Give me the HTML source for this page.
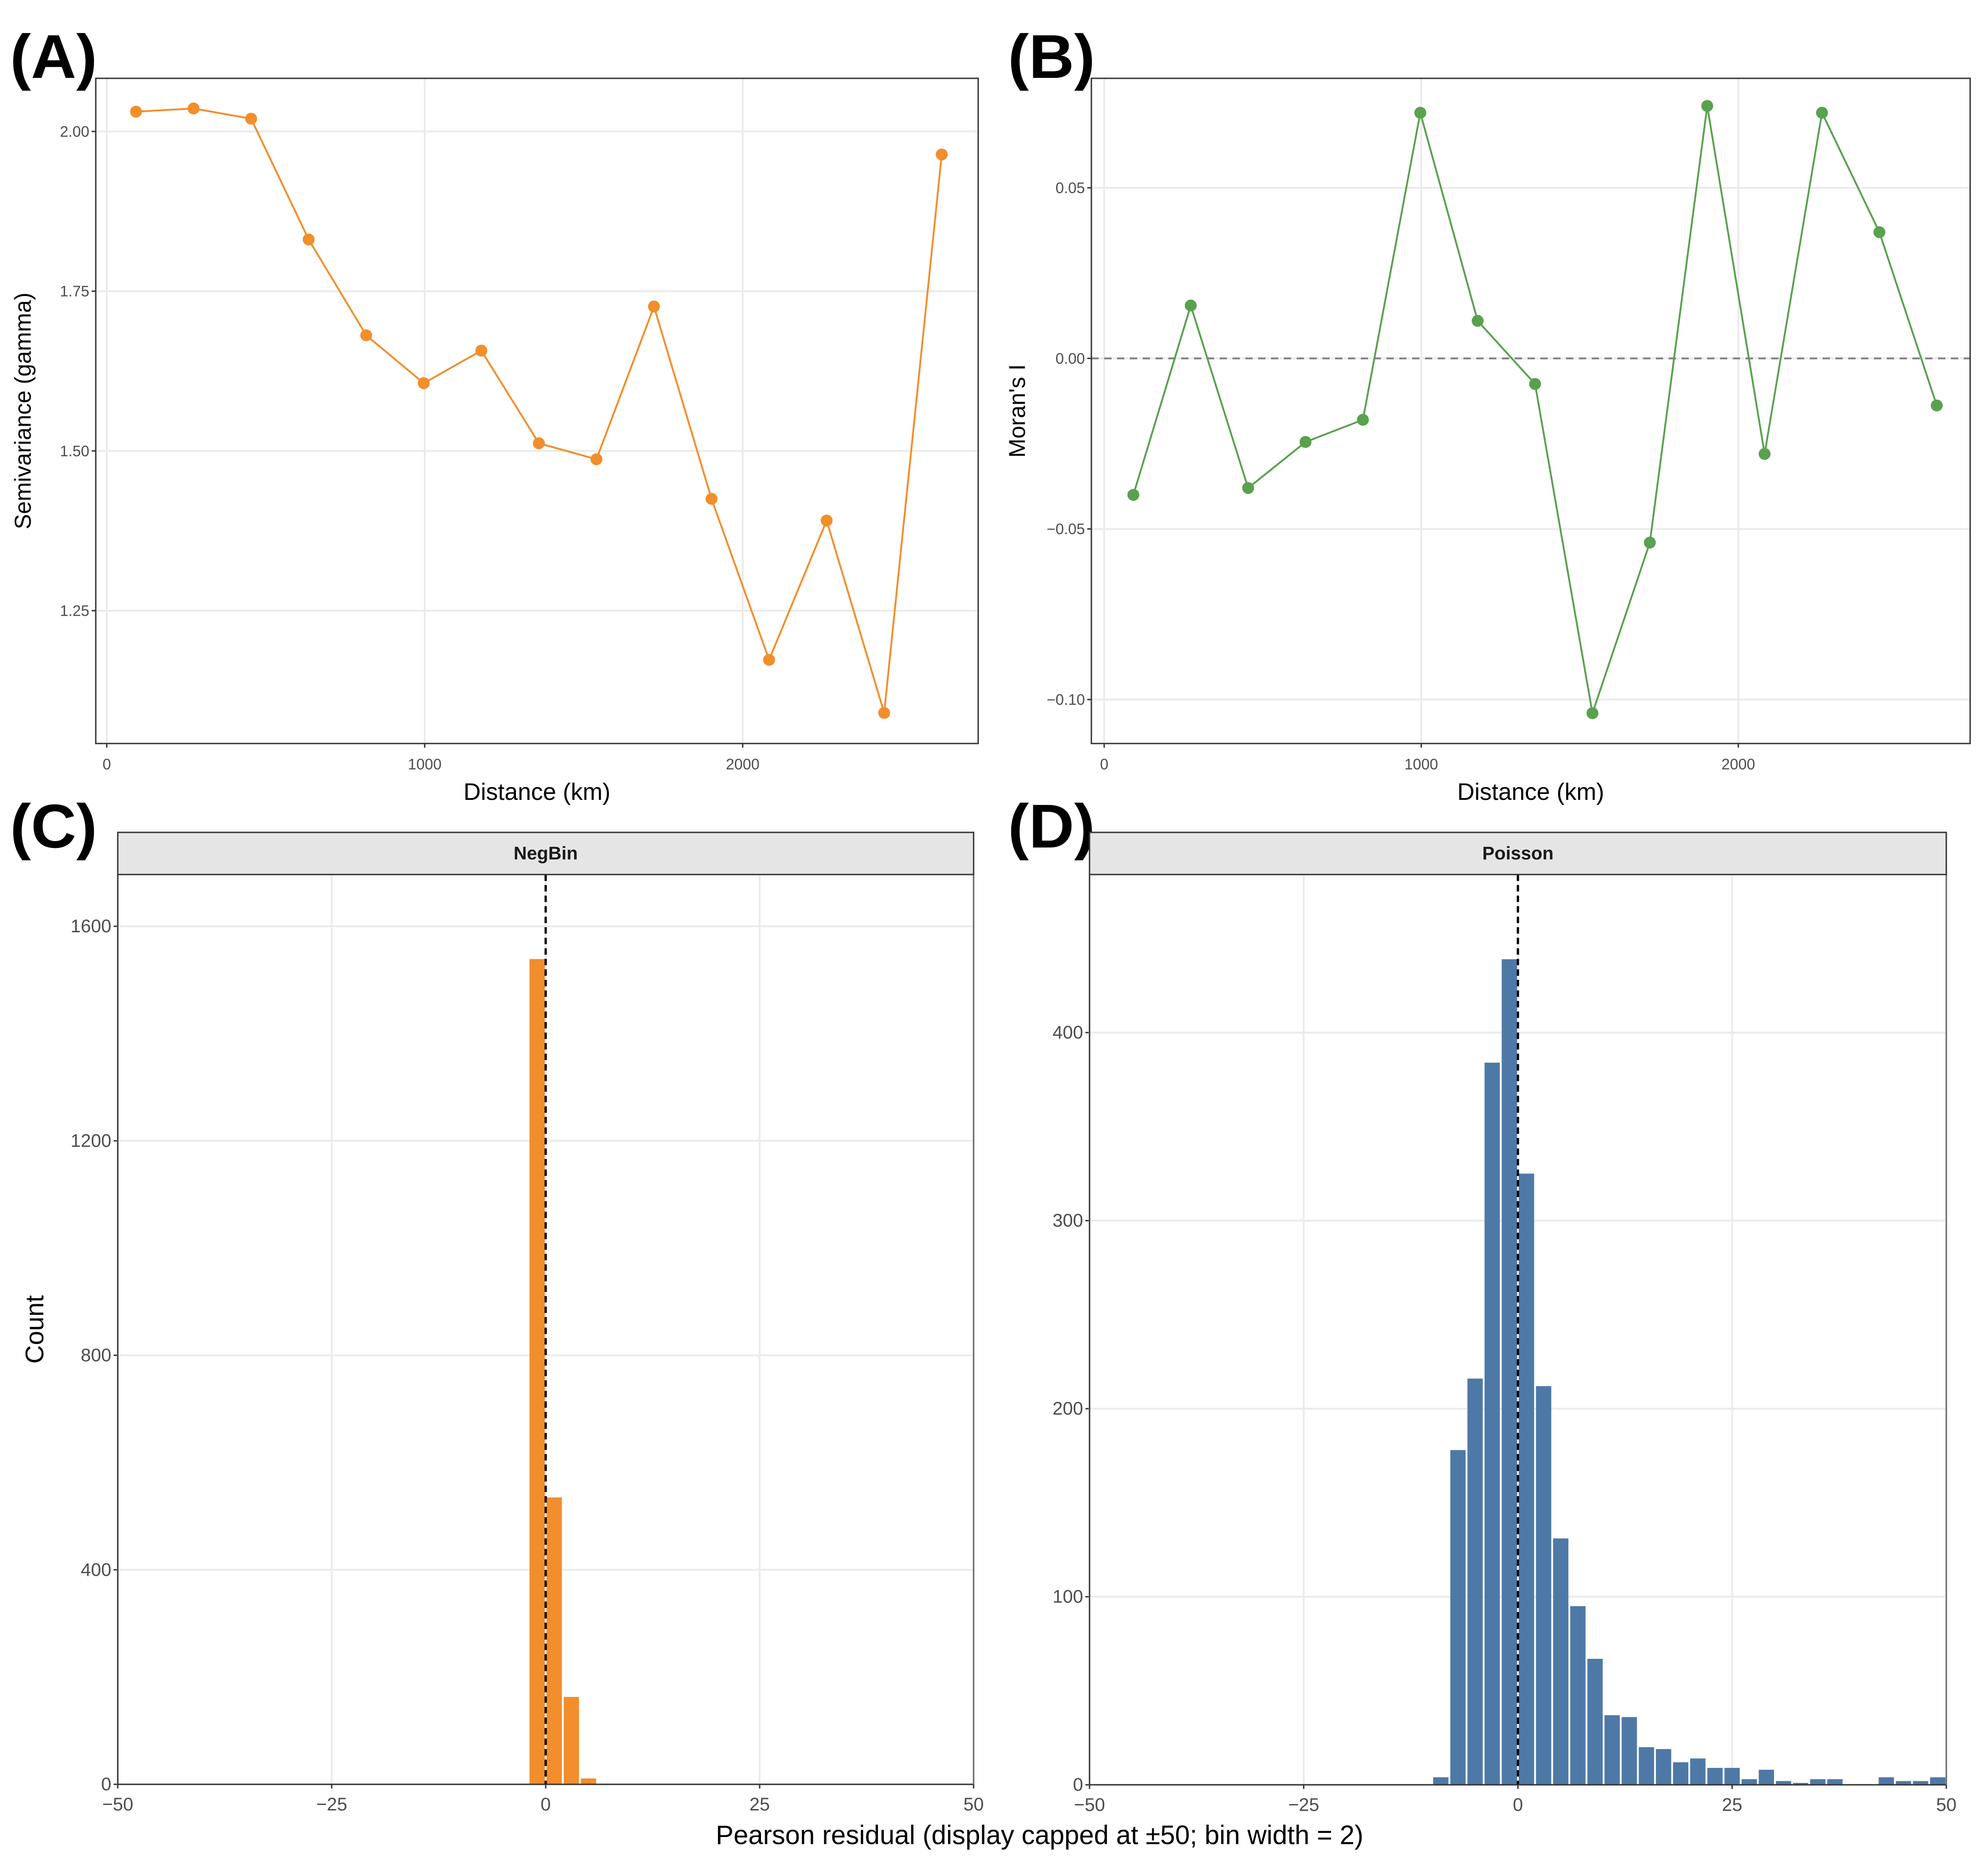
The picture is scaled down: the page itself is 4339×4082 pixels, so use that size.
<!DOCTYPE html>
<html><head><meta charset="utf-8">
<style>
html,body{margin:0;padding:0;background:#fff;}
svg{display:block;font-family:"Liberation Sans",sans-serif;}
</style></head>
<body>
<svg id="fig" width="4339" height="4082" viewBox="0 0 4339 4082" xmlns="http://www.w3.org/2000/svg"></svg>
<script>
// ---- Data ----
const distA = [92,273,454,635,816,997,1178,1359,1540,1721,1902,2083,2264,2445,2626];
const gammaA = [2.031,2.036,2.020,1.831,1.681,1.606,1.657,1.512,1.487,1.726,1.425,1.173,1.391,1.090,1.964];
const distB = [92,273,454,635,816,997,1178,1359,1540,1721,1902,2083,2264,2445,2626];
const moranB = [-0.040,0.0155,-0.038,-0.0245,-0.018,0.072,0.011,-0.0075,-0.104,-0.054,0.074,-0.028,0.072,0.037,-0.0138];
const ticksAx = [0,1000,2000];
const ticksAy = [1.25,1.50,1.75,2.00];
const ticksAyLab = ["1.25","1.50","1.75","2.00"];
const ticksBy = [-0.10,-0.05,0.00,0.05];
const ticksByLab = ["\u22120.10","\u22120.05","0.00","0.05"];
const binStartsC = [-2,0,2,4];
const countsC = [1539,535,163,11];
const binStartsD = [-10,-8,-6,-4,-2,0,2,4,6,8,10,12,14,16,18,20,22,24,26,28,30,32,34,36,38,40,42,44,46,48];
const countsD = [4,178,216,384,439,325,212,131,95,67,37,36,20,19,12,14,9,9,3,8,2,1,3,3,0,0,4,2,2,4];
const ticksHx = [-50,-25,0,25,50];
const ticksHxLab = ["\u221250","\u221225","0","25","50"];
const ticksCy = [0,400,800,1200,1600];
const ticksDy = [0,100,200,300,400];

const NS="http://www.w3.org/2000/svg";
const svg=document.getElementById('fig');
function el(tag,attrs,parent,text){
  const e=document.createElementNS(NS,tag);
  for(const k in attrs) e.setAttribute(k,attrs[k]);
  if(text!==undefined) e.textContent=text;
  (parent||svg).appendChild(e);
  return e;
}
function lin(d0,d1,r0,r1){return v=>r0+(v-d0)*(r1-r0)/(d1-d0);}
function txt(x,y,s,opts,parent,name){
  const t=el('text',Object.assign({x:x,y:y,'font-size':33,fill:'#4d4d4d','text-anchor':'middle','dominant-baseline':'central'},opts||{}),parent,s);
  
  
  return t;
}

// panel letters
[["(A)",22,170],["(B)",2200,170],["(C)",22,1850],["(D)",2200,1850]].forEach(p=>{
  const t=el('text',{x:p[1],y:p[2],'font-size':135,'font-weight':'bold',fill:'#000','textLength':190,'lengthAdjust':'spacingAndGlyphs'},svg,p[0]);
  
  
});

function linePanel(cfg){
  const g=el('g',{});
  
  
  const {L,R,T,B}=cfg;
  const sx=lin(0,1000,cfg.x0,cfg.x1000), sy=lin(cfg.ya,cfg.yb,cfg.pya,cfg.pyb);
  cfg.yt.forEach((v,i)=>{
    const gl=el('line',{x1:L,x2:R,y1:sy(v),y2:sy(v),stroke:'#ebebeb','stroke-width':4},g);
    
    
    el('line',{x1:L-9,x2:L,y1:sy(v),y2:sy(v),stroke:'#333','stroke-width':3},g);
    txt(L-14,sy(v),cfg.ytl[i],{'text-anchor':'end'},g,'y-tick-label');
  });
  ticksAx.forEach(v=>{
    const gl=el('line',{x1:sx(v),x2:sx(v),y1:T,y2:B,stroke:'#ebebeb','stroke-width':4},g);
    
    
    el('line',{x1:sx(v),x2:sx(v),y1:B,y2:B+9,stroke:'#333','stroke-width':3},g);
    txt(sx(v),B+45,String(v),{},g,'x-tick-label');
  });
  if(cfg.zero){
    const z=el('line',{x1:L,x2:R,y1:sy(0),y2:sy(0),stroke:'#808080','stroke-width':4,'stroke-dasharray':'16,12'},g);
    
    
  }
  const pts=cfg.xs.map((x,i)=>sx(x)+','+sy(cfg.ys[i])).join(' ');
  const pl=el('polyline',{points:pts,fill:'none',stroke:cfg.color,'stroke-width':4},g);
  
  
  cfg.xs.forEach((x,i)=>{
    const c=el('circle',{cx:sx(x),cy:sy(cfg.ys[i]),r:13,fill:cfg.color},g);
    
    
  });
  const bd=el('rect',{x:L,y:T,width:R-L,height:B-T,fill:'none',stroke:'#333','stroke-width':3},g);
  
  
  txt((L+R)/2,B+106,'Distance (km)',{'font-size':52,fill:'#000'},g,'x-axis-title');
  txt(cfg.ytx,(T+B)/2,cfg.ytitle,{'font-size':50,fill:'#000',transform:`rotate(-90 ${cfg.ytx} ${(T+B)/2})`},g,'y-axis-title');
}
linePanel({name:'panel-a-semivariogram',L:209,R:2135,T:171,B:1623,x0:233,x1000:927,ya:2.0,yb:1.25,pya:287,pyb:1333,
  yt:ticksAy,ytl:ticksAyLab,xs:distA,ys:gammaA,color:'#F28E2B',ytitle:'Semivariance (gamma)',ytx:50});
linePanel({name:'panel-b-morans-i',L:2382,R:4300,T:171,B:1623,x0:2410,x1000:3102,ya:0.05,yb:-0.10,pya:410,pyb:1527,
  yt:ticksBy,ytl:ticksByLab,xs:distB,ys:moranB,color:'#59A14F',ytitle:"Moran's I",ytx:2220,zero:true});

function histPanel(cfg){
  const g=el('g',{});
  
  
  const {L,R,T,B,ST}=cfg;
  const sx=lin(-50,50,L,R), sy=v=>B-v*cfg.k;
  cfg.yt.forEach(v=>{
    const gl=el('line',{x1:L,x2:R,y1:sy(v),y2:sy(v),stroke:'#ebebeb','stroke-width':4},g);
    
    
    el('line',{x1:L-9,x2:L,y1:sy(v),y2:sy(v),stroke:'#333','stroke-width':3},g);
    txt(L-14,sy(v),String(v),{'text-anchor':'end','font-size':40},g,'y-tick-label');
  });
  ticksHx.forEach((v,i)=>{
    const gl=el('line',{x1:sx(v),x2:sx(v),y1:T,y2:B,stroke:'#ebebeb','stroke-width':4},g);
    
    
    el('line',{x1:sx(v),x2:sx(v),y1:B,y2:B+9,stroke:'#333','stroke-width':3},g);
    txt(sx(v),B+44,ticksHxLab[i],{'font-size':40},g,'x-tick-label');
  });
  cfg.bins.forEach((b,i)=>{
    const c=cfg.counts[i]; if(c<=0) return;
    const x0=sx(b),x1=sx(b+2);
    const r=el('rect',{x:x0+2,y:sy(c),width:x1-x0-4,height:B-sy(c),fill:cfg.color},g);
    
    
  });
  const z=el('line',{x1:sx(0),x2:sx(0),y1:T,y2:B,stroke:'#000','stroke-width':5,'stroke-dasharray':'14,9'},g);
  
  
  el('line',{x1:L,x2:R,y1:B,y2:B,stroke:'#333','stroke-width':3},g);
  el('line',{x1:L,x2:L,y1:T,y2:B,stroke:'#333','stroke-width':3},g);
  el('line',{x1:R,x2:R,y1:T,y2:B,stroke:'#666','stroke-width':3},g);
  const s=el('rect',{x:L,y:ST,width:R-L,height:T-ST,fill:'#e5e5e5',stroke:'#333','stroke-width':3},g);
  
  
  txt((L+R)/2,(ST+T)/2,cfg.title,{'font-size':40,'font-weight':'bold',fill:'#1a1a1a'},g,'facet-strip-label');
}
histPanel({name:'panel-c-negbin',L:257,R:2125,T:1909,B:3895,ST:1817,k:1.1706,yt:ticksCy,bins:binStartsC,counts:countsC,color:'#F28E2B',title:'NegBin'});
histPanel({name:'panel-d-poisson',L:2378,R:4248,T:1909,B:3896,ST:1817,k:4.105,yt:ticksDy,bins:binStartsD,counts:countsD,color:'#4E79A7',title:'Poisson'});

txt(75,2902,'Count',{'font-size':56,fill:'#000',transform:'rotate(-90 75 2902)'},svg,'y-axis-title');
txt(2269,4006,'Pearson residual (display capped at \u00b150; bin width = 2)',{'font-size':58,fill:'#000'},svg,'x-axis-title');
</script>
</body></html>
